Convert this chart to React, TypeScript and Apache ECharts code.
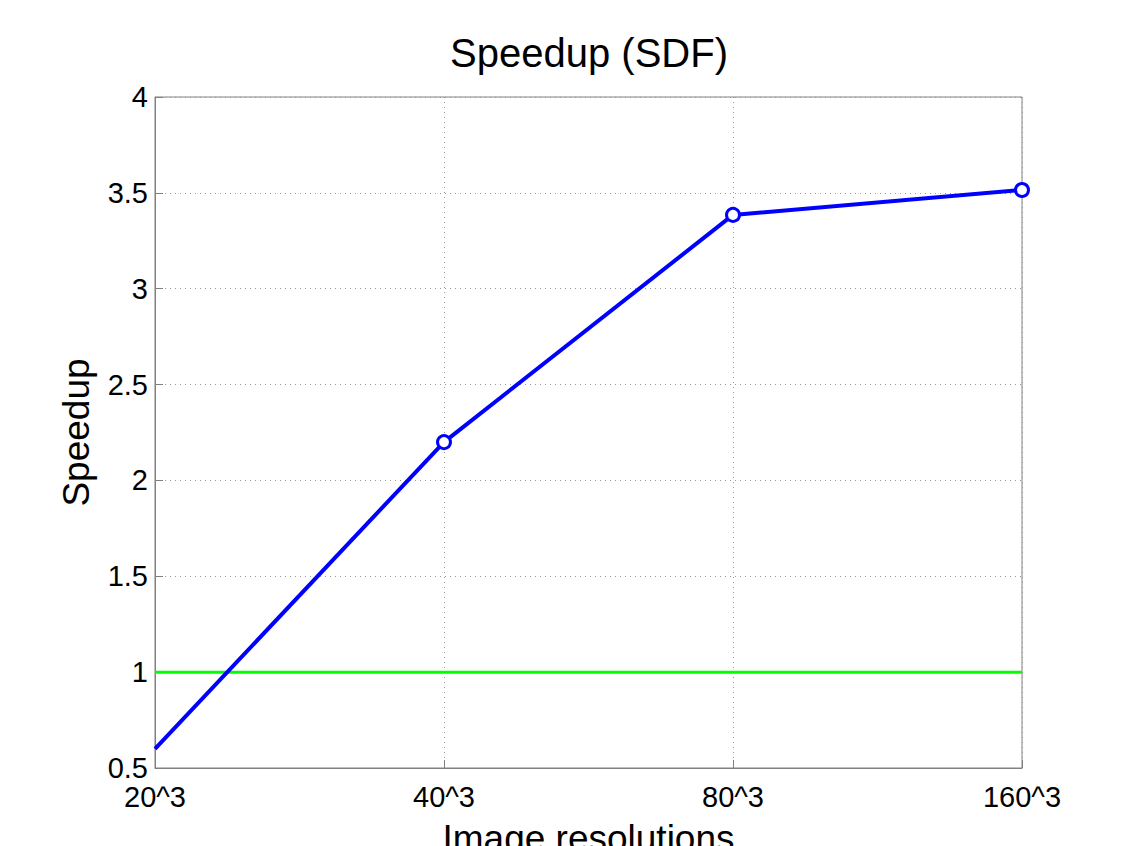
import React, { useEffect, useRef } from "react";
import * as echarts from "echarts";

const categories = ["20^3", "40^3", "80^3", "160^3"];
const speedup = [0.6, 2.2, 3.385, 3.515];
const baseline = [1, 1, 1, 1];
const yTicks = { min: 0.5, max: 4, interval: 0.5 };

export default function App() {
  const ref = useRef<HTMLDivElement>(null);
  useEffect(() => {
    if (!ref.current) return;
    const chart = echarts.init(ref.current, undefined, { renderer: "svg" });
    const font = "'Liberation Sans', Arial, Helvetica, sans-serif";
    chart.setOption({
      animation: false,
      backgroundColor: "#ffffff",
      title: {
        text: "Speedup (SDF)",
        left: 584,
        textAlign: "center",
        top: 28,
        textStyle: { fontFamily: font, fontSize: 40, fontWeight: "normal", color: "#000" },
      },
      grid: {
        left: 155,
        right: 103,
        top: 97,
        bottom: 78,
        outerBoundsMode: "none",
        containLabel: false,
        show: true,
        borderColor: "#808080",
        borderWidth: 1,
        backgroundColor: "transparent",
      },
      xAxis: {
        type: "category",
        data: categories,
        boundaryGap: false,
        name: "Image resolutions",
        nameLocation: "middle",
        nameGap: 52,
        nameTextStyle: { fontFamily: font, fontSize: 37, color: "#000", verticalAlign: "top" },
        axisLine: { lineStyle: { color: "#808080", width: 1 } },
        axisTick: { inside: true, length: 8, lineStyle: { color: "#808080" } },
        axisLabel: { fontFamily: font, fontSize: 29, color: "#000", margin: 14 },
        splitLine: { show: true, lineStyle: { color: "#999", type: [1, 4], width: 1 } },
      },
      yAxis: {
        type: "value",
        min: yTicks.min,
        max: yTicks.max,
        interval: yTicks.interval,
        name: "Speedup",
        nameLocation: "middle",
        nameGap: 60,
        nameTextStyle: { fontFamily: font, fontSize: 37, color: "#000" },
        axisLine: { show: true, lineStyle: { color: "#808080", width: 1 } },
        axisTick: { show: true, inside: true, length: 8, lineStyle: { color: "#808080" } },
        axisLabel: { fontFamily: font, fontSize: 29, color: "#000", margin: 7 },
        splitLine: { show: true, lineStyle: { color: "#999", type: [1, 4], width: 1 } },
      },
      series: [
        {
          type: "line",
          data: baseline,
          symbol: "none",
          lineStyle: { color: "#00ff00", width: 3 },
          z: 2,
        },
        {
          type: "line",
          data: speedup.map((v, i) => ({
            value: v,
            symbol: i === 0 ? "none" : "circle",
          })),
          symbol: "circle",
          symbolSize: 13,
          showAllSymbol: true,
          itemStyle: { color: "#ffffff", borderColor: "#0000ff", borderWidth: 3 },
          lineStyle: { color: "#0000ff", width: 4 },
          z: 3,
        },
      ],
    });
    return () => chart.dispose();
  }, []);
  return (
    <div
      ref={ref}
      style={{ position: "fixed", left: 0, top: 0, width: 1125, height: 846 }}
    />
  );
}
